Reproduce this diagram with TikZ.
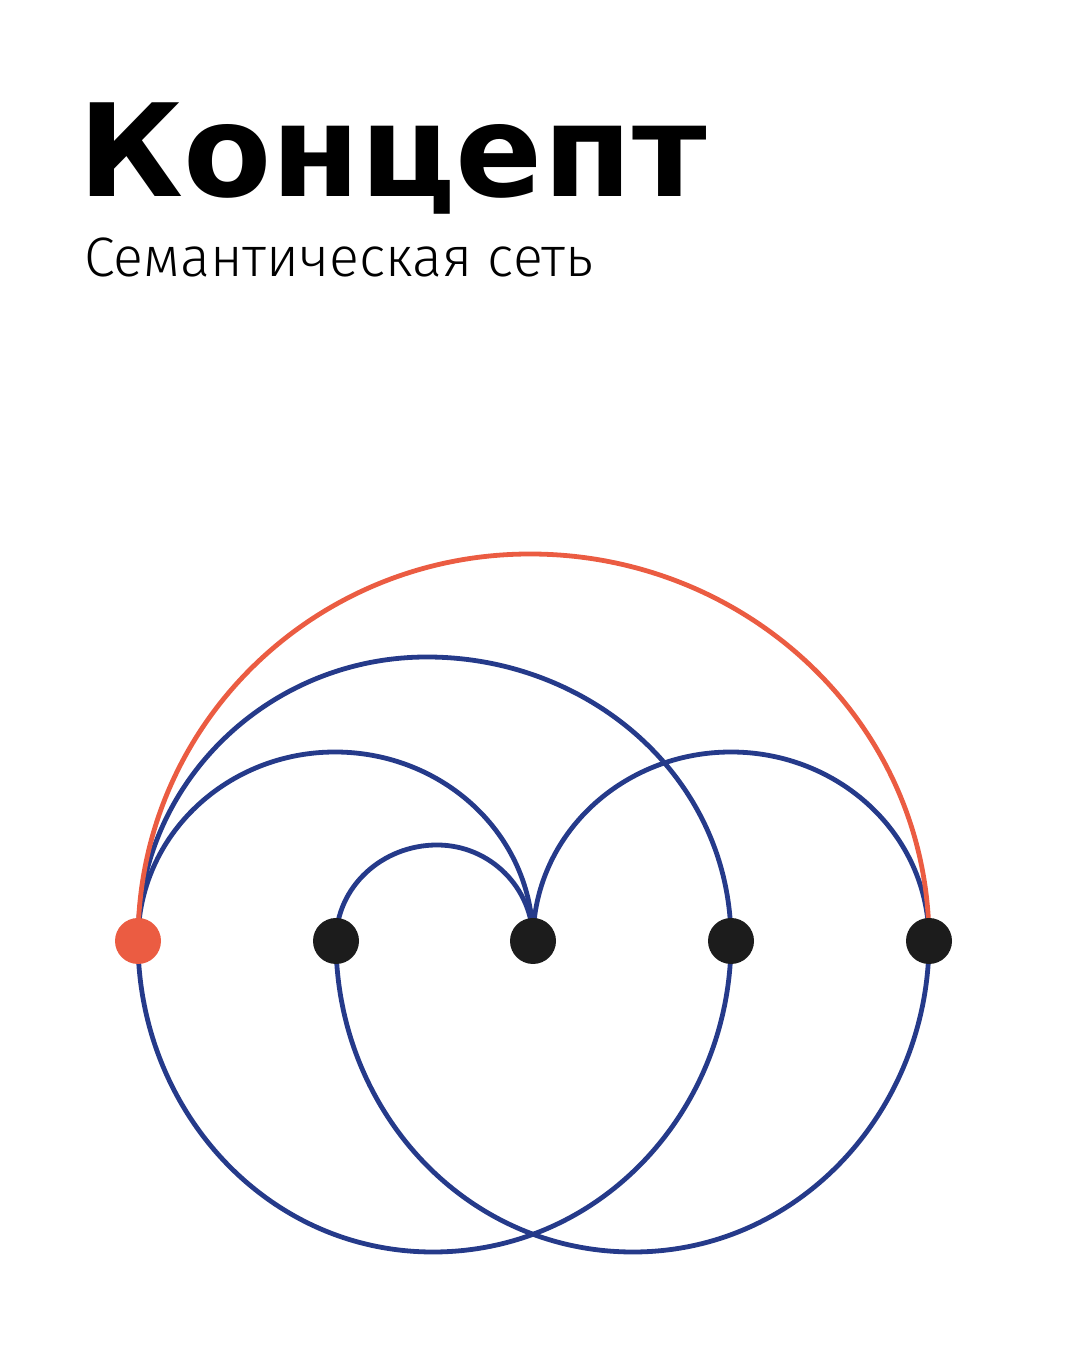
\documentclass[tikz,border=0pt]{standalone}
\usepackage{fontspec}
\setmainfont{DejaVu Sans}
\newfontfamily\lightfont{Fira Sans Light}
\usetikzlibrary{backgrounds}
\definecolor{linkblue}{HTML}{253A8A}
\definecolor{rootred}{HTML}{EB5C42}
\definecolor{dotblack}{HTML}{1C1C1C}

\begin{document}
\begin{tikzpicture}[x=0.5pt, y=0.5pt,
    dot/.style={circle, fill=dotblack, minimum size=23pt, inner sep=0pt},
    link/.style={draw=linkblue, line width=2.4pt}]
  \useasboundingbox (0,0) rectangle (1080,1350);
  \node[anchor=base west, inner sep=0pt] (title) at (78,1153)
    {\fontsize{64.3}{64.3}\selectfont\bfseries Концепт};
  \node[anchor=base west, inner sep=0pt] (subtitle) at (84,1073)
    {\lightfont\fontsize{27.8}{27.8}\selectfont Семантическая сеть};
  % the five concepts
  \node[dot, fill=rootred] (k1) at (138,409) {};
  \node[dot] (k2) at (336,409) {};
  \node[dot] (k3) at (533,409) {};
  \node[dot] (k4) at (731,409) {};
  \node[dot] (k5) at (929,409) {};
  \begin{scope}[on background layer]
    \coordinate (t13) at (335,598);
    \coordinate (t14) at (427,693);
    \coordinate (t23) at (437,505);
    \coordinate (t35) at (731,598);
    \coordinate (t15) at (530,796);
    \coordinate (b14) at (433,98);
    \coordinate (b25) at (633,98);
    % upper links
    \draw[link] (k1.center) to[out=90,in=180] (t14) to[out=0,in=90] (k4.center);
    \draw[link] (k1.center) to[out=90,in=180] (t13) to[out=0,in=90] (k3.center);
    \draw[link] (k2.center) to[out=90,in=180] (t23) to[out=0,in=90] (k3.center);
    \draw[link] (k3.center) to[out=90,in=180] (t35) to[out=0,in=90] (k5.center);
    % lower links
    \draw[link] (k1.center) to[out=-90,in=180] (b14) to[out=0,in=-90] (k4.center);
    \draw[link] (k2.center) to[out=-90,in=180] (b25) to[out=0,in=-90] (k5.center);
    \draw[link, draw=rootred] (k1.center) to[out=90,in=180] (t15) to[out=0,in=90] (k5.center);
  \end{scope}
\end{tikzpicture}
\end{document}
